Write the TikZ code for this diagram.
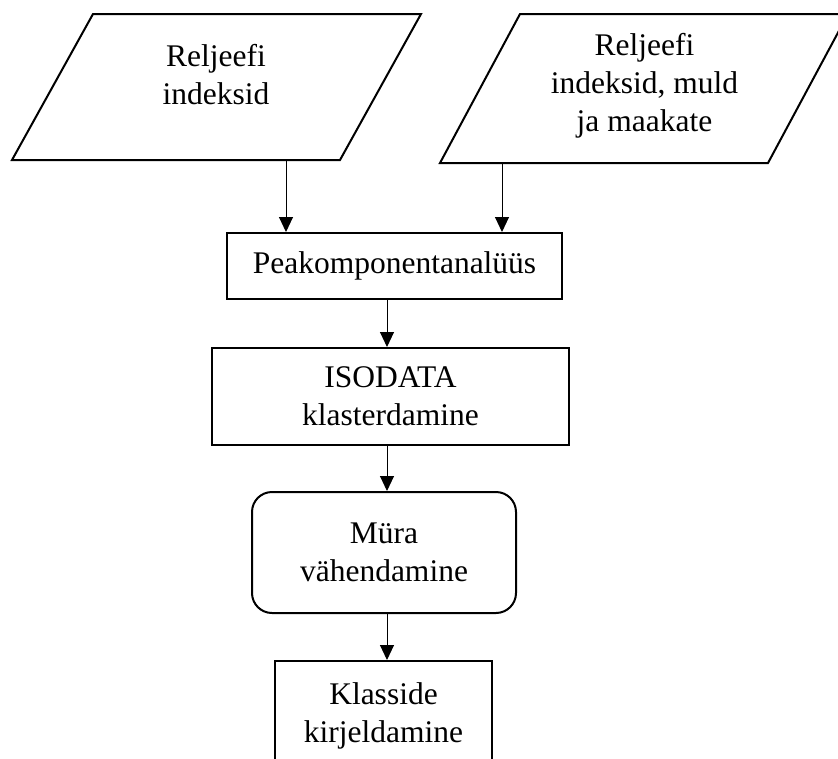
\documentclass[tikz,border=0pt]{standalone}
\usepackage{fontspec}
\setmainfont{Liberation Serif}
\usetikzlibrary{arrows.meta}
\tikzset{
  shapeline/.style={line width=2pt, draw=black},
  procbox/.style={shapeline, rectangle, inner sep=0pt, align=center},
  txt/.style={align=center, inner sep=0pt},
  arr/.style={line width=1pt, -{Triangle[length=15pt,width=14pt]}},
}
\begin{document}
\begin{tikzpicture}[x=1pt,y=-1pt,font=\fontsize{31.5}{38}\selectfont]
\useasboundingbox (0,0) rectangle (838,758);
\clip (0,0) rectangle (838,758);
\fill[white] (0,0) rectangle (838,758);
% input parallelograms
\draw[shapeline, line join=miter] (93,14) -- (421,14) -- (340,160) -- (12,160) -- cycle;
\node[txt] (inL) at (216,75) {Reljeefi\\indeksid};
\coordinate (pL) at (286,160);
\draw[shapeline, line join=miter] (520,14) -- (848,14) -- (768,163) -- (440,163) -- cycle;
\node[txt] (inR) at (644.5,85.5) {Reljeefi\\indeksid, muld\\ja maakate};
\coordinate (pR) at (502,163);
% process boxes
\node[procbox, minimum width=335pt, minimum height=66pt] (pca) at (394.5,266) {Peakomponentanalüüs};
\node[procbox, minimum width=357pt, minimum height=97pt] (iso) at (390.5,396.5) {ISODATA\\klasterdamine};
\node[procbox, rounded corners=20pt, minimum width=264pt, minimum height=121pt] (mura) at (384,552.5) {Müra\\vähendamine};
\node[procbox, minimum width=217pt, minimum height=110pt] (klass) at (383.5,716) {Klasside\\kirjeldamine};
% connectors
\coordinate (sp) at (387,0);
\draw[arr] (pL) -- (pL |- pca.north);
\draw[arr] (pR) -- (pR |- pca.north);
\draw[arr] (pca.south -| sp) -- (iso.north -| sp);
\draw[arr] (iso.south -| sp) -- (mura.north -| sp);
\draw[arr] (mura.south -| sp) -- (klass.north -| sp);
\end{tikzpicture}
\end{document}
